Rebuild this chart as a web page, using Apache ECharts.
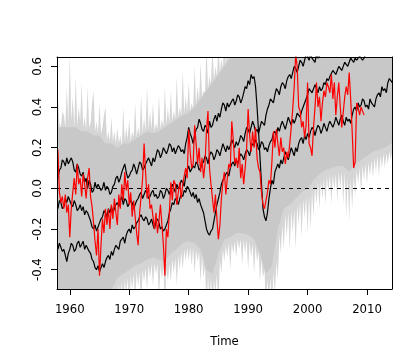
<!DOCTYPE html>
<html><head><meta charset="utf-8">
<script src="https://cdn.jsdelivr.net/npm/echarts@6/dist/echarts.min.js"></script>
<style>html,body{margin:0;padding:0;background:#fff}#c{width:420px;height:360px}</style>
</head><body><div id="c"></div>
<script>
// ---- data ----
const redStart = 1958, redStep = 0.25;
const red = [
 0.19,-0.02,-0.07,-0.04, -0.10,-0.03,-0.12,-0.08, -0.24,-0.10,-0.02,0.05, -0.03,0.12,0.02,0.05,
 -0.04,0.07,0.02,-0.05, 0.05,0.10,-0.04,-0.09, -0.17,-0.26,-0.33,-0.20, -0.43,-0.28,-0.15,-0.22,
 -0.10,-0.18,-0.10,-0.20, -0.08,-0.15,-0.05,-0.12, -0.18,-0.03,-0.10,0.02, -0.06,0.08,-0.01,0.04,
 -0.08,-0.02,-0.14,-0.06, -0.14,-0.22,-0.28,-0.12, -0.04,0.05,0.22,0.08, -0.05,0.02,-0.10,-0.08,
 -0.14,-0.20,-0.12,-0.22, -0.16,-0.08,-0.18,-0.28, -0.43,-0.20,-0.24,-0.12, 0.03,-0.06,0.04,0.02,
 -0.08,-0.02,0.03,-0.05, 0.02,0.06,0.10,0.05, 0.29,0.18,0.10,0.12, 0.31,0.22,0.12,0.20,
 0.08,0.15,0.05,0.12, 0.29,0.38,0.10,0.02, -0.05,-0.12,-0.03,-0.15, -0.25,-0.18,-0.05,0.03,
 0.08,-0.03,0.05,0.12, 0.10,0.33,0.24,0.12, 0.15,0.10,0.20,0.05, 0.12,0.02,0.10,0.20,
 0.39,0.26,0.18,0.28, 0.20,0.30,0.15,0.10, 0.08,-0.02,-0.08,-0.10, -0.06,-0.02,0.04,0.02,
 0.13,0.28,0.20,0.29, 0.22,0.16,0.25,0.18, 0.20,0.12,0.18,0.15, 0.22,0.30,0.39,0.50,
 0.66,0.60,0.40,0.38, 0.30,0.33,0.25,0.31, 0.52,0.22,0.20,0.16, 0.30,0.40,0.52,0.40,
 0.45,0.33,0.42,0.48, 0.45,0.52,0.50,0.47, 0.56,0.44,0.52,0.36, 0.45,0.52,0.40,0.30,
 0.30,0.45,0.50,0.46, 0.57,0.44,0.28,0.10, 0.13,0.42,0.40,0.36, 0.40,0.38,0.36
];
const lineStart = 1958, lineStep = 0.25;
const blackA = [
 0.05,0.09,0.10,0.14, 0.13,0.11,0.15,0.12, 0.12,0.15,0.13,0.09, 0.08,0.12,0.10,0.07,
 0.06,0.08,0.03,0.05, 0.00,0.04,0.02,-0.02, -0.01,0.03,0.00,0.02, 0.02,-0.01,0.00,0.03,
 -0.01,0.01,0.00,-0.03, -0.02,0.01,0.02,0.05, 0.06,0.03,0.05,0.08, 0.10,0.12,0.08,0.05,
 0.06,0.08,0.09,0.12, 0.10,0.07,0.10,0.13, 0.12,0.09,0.10,0.12, 0.12,0.15,0.13,0.11,
 0.15,0.13,0.16,0.19, 0.18,0.15,0.17,0.20, 0.20,0.17,0.19,0.22, 0.21,0.18,0.20,0.17,
 0.17,0.21,0.20,0.18, 0.19,0.17,0.22,0.25, 0.30,0.27,0.25,0.22, 0.26,0.29,0.30,0.34,
 0.32,0.29,0.28,0.31, 0.30,0.27,0.33,0.30, 0.31,0.34,0.36,0.33, 0.37,0.35,0.39,0.42,
 0.41,0.38,0.42,0.40, 0.40,0.43,0.44,0.41, 0.43,0.46,0.45,0.42, 0.44,0.47,0.50,0.49,
 0.53,0.51,0.56,0.54, 0.55,0.50,0.40,0.28, 0.15,0.02,-0.10,-0.14, -0.16,-0.12,-0.05,0.00,
 0.04,0.02,0.08,0.10, 0.12,0.10,0.14,0.12, 0.15,0.18,0.16,0.14, 0.17,0.20,0.18,0.16,
 0.20,0.18,0.22,0.24, 0.25,0.22,0.26,0.24, 0.27,0.25,0.28,0.30, 0.29,0.26,0.29,0.31,
 0.30,0.27,0.29,0.32, 0.30,0.28,0.31,0.33, 0.33,0.30,0.32,0.35, 0.33,0.31,0.34,0.36,
 0.33,0.31,0.35,0.33, 0.34,0.32,0.36,0.39, 0.40,0.38,0.42,0.40, 0.41,0.44,0.43,0.40,
 0.41,0.39,0.44,0.42, 0.42,0.40,0.44,0.46, 0.47,0.45,0.50,0.48, 0.49,0.47,0.52,0.54, 0.53,0.52
];
const blackB = [
 -0.10,-0.06,-0.07,-0.10, -0.09,-0.05,-0.07,-0.04, -0.06,-0.08,-0.09,-0.06, -0.08,-0.11,-0.10,-0.08,
 -0.11,-0.09,-0.13,-0.11, -0.12,-0.14,-0.16,-0.19, -0.20,-0.18,-0.21,-0.19, -0.17,-0.15,-0.14,-0.11,
 -0.12,-0.14,-0.10,-0.12, -0.09,-0.12,-0.10,-0.08, -0.07,-0.09,-0.06,-0.04, -0.08,-0.05,-0.06,-0.09,
 -0.09,-0.06,-0.07,-0.10, -0.08,-0.06,-0.05,-0.03, -0.02,-0.05,-0.03,-0.01, -0.02,-0.05,-0.04,-0.02,
 -0.01,-0.04,-0.03,-0.05, -0.04,-0.01,-0.02,-0.05, -0.03,0.00,-0.01,-0.03, 0.00,0.02,0.00,-0.02,
 0.02,0.00,0.01,0.04, 0.03,0.01,0.06,0.09, 0.11,0.08,0.08,0.11, 0.10,0.13,0.12,0.09,
 0.10,0.12,0.13,0.16, 0.15,0.12,0.16,0.18, 0.17,0.14,0.16,0.19, 0.18,0.16,0.19,0.22,
 0.20,0.18,0.21,0.19, 0.21,0.24,0.22,0.20, 0.23,0.21,0.23,0.26, 0.25,0.23,0.27,0.30,
 0.29,0.27,0.30,0.33, 0.31,0.28,0.29,0.27, 0.30,0.33,0.33,0.31, 0.36,0.39,0.41,0.44,
 0.44,0.42,0.46,0.49, 0.48,0.46,0.50,0.52, 0.51,0.49,0.53,0.55, 0.56,0.54,0.57,0.60,
 0.59,0.57,0.60,0.63, 0.62,0.60,0.63,0.66, 0.65,0.63,0.66,0.64, 0.64,0.62,0.66,0.64,
 0.65,0.67,0.68,0.70, 0.70,0.72,0.72,0.74, 0.74,0.75,0.75,0.76, 0.76,0.77,0.77,0.78,
 0.78,0.79,0.79,0.80, 0.80,0.80,0.80,0.81, 0.81,0.82,0.82,0.83, 0.83,0.84,0.84,0.85,
 0.85,0.85,0.85,0.86, 0.86,0.87,0.87,0.88, 0.88,0.88,0.88,0.89, 0.89,0.90,0.90,0.90, 0.90,0.91
];
const blackC = [
 -0.30,-0.27,-0.27,-0.31, -0.30,-0.33,-0.36,-0.32, -0.30,-0.27,-0.28,-0.31, -0.30,-0.27,-0.26,-0.29,
 -0.29,-0.26,-0.30,-0.28, -0.28,-0.31,-0.32,-0.35, -0.36,-0.39,-0.40,-0.38, -0.41,-0.39,-0.37,-0.39,
 -0.36,-0.34,-0.33,-0.35, -0.31,-0.33,-0.30,-0.28, -0.28,-0.30,-0.26,-0.25, -0.24,-0.27,-0.23,-0.21,
 -0.20,-0.22,-0.18,-0.20, -0.19,-0.17,-0.16,-0.14, -0.13,-0.15,-0.16,-0.14, -0.15,-0.18,-0.17,-0.15,
 -0.18,-0.20,-0.16,-0.15, -0.17,-0.20,-0.19,-0.21, -0.20,-0.18,-0.16,-0.12, -0.10,-0.07,-0.08,-0.05,
 -0.06,-0.08,-0.05,-0.03, -0.04,-0.01,-0.02,0.01, 0.00,-0.02,-0.04,-0.02, -0.05,-0.03,-0.07,-0.05,
 -0.08,-0.10,-0.12,-0.16, -0.20,-0.22,-0.23,-0.21, -0.20,-0.16,-0.12,-0.08, -0.05,-0.02,0.02,0.04,
 0.05,0.07,0.08,0.06, 0.10,0.12,0.13,0.11, 0.14,0.12,0.15,0.17, 0.16,0.14,0.17,0.19,
 0.18,0.16,0.20,0.22, 0.21,0.24,0.22,0.19, 0.20,0.23,0.22,0.19, 0.20,0.18,0.21,0.23,
 0.24,0.27,0.28,0.26, 0.30,0.28,0.31,0.33, 0.31,0.29,0.32,0.35, 0.33,0.31,0.34,0.32,
 0.34,0.37,0.36,0.35, 0.38,0.40,0.42,0.44, 0.46,0.49,0.48,0.47, 0.49,0.51,0.49,0.47,
 0.50,0.48,0.49,0.52, 0.51,0.54,0.53,0.55, 0.55,0.58,0.57,0.56, 0.58,0.60,0.59,0.58,
 0.60,0.62,0.61,0.60, 0.62,0.64,0.63,0.62, 0.64,0.63,0.63,0.65, 0.65,0.63,0.64,0.66,
 0.66,0.67,0.68,0.69, 0.70,0.71,0.71,0.72, 0.72,0.73,0.73,0.74, 0.74,0.75,0.75,0.76, 0.76,0.77
];
// upper edge of the light ensemble spikes (beyond 1988 the band fills the top)
const lightUpperStart = 1958, lightUpperStep = 0.25;
const lightUpper = [
 0.45,0.32,0.30,0.38, 0.36,0.30,0.50,0.32, 0.66,0.33,0.45,0.30, 0.55,0.31,0.40,0.33,
 0.52,0.30,0.35,0.29, 0.50,0.30,0.32,0.42, 0.48,0.28,0.33,0.27, 0.42,0.27,0.30,0.36,
 0.40,0.24,0.28,0.23, 0.35,0.23,0.28,0.22, 0.30,0.22,0.26,0.21, 0.40,0.23,0.30,0.24,
 0.34,0.23,0.28,0.25, 0.42,0.25,0.30,0.26, 0.46,0.27,0.35,0.28, 0.50,0.29,0.38,0.29,
 0.42,0.28,0.32,0.29, 0.46,0.29,0.34,0.30, 0.50,0.31,0.40,0.32, 0.48,0.33,0.38,0.34,
 0.55,0.35,0.40,0.36, 0.58,0.37,0.45,0.38, 0.52,0.38,0.42,0.39, 0.60,0.41,0.50,0.43,
 0.62,0.45,0.48,0.47, 0.70,0.49,0.55,0.51, 0.70,0.53,0.60,0.55, 0.70,0.57,0.64,0.59,
 0.75,0.61,0.70,0.63, 0.75,0.65,0.75,0.70
];
// lower edge of the light ensemble spikes (before 1966 the band fills the bottom)
const lightLowerStart = 1966, lightLowerStep = 0.25;
const lightLower = [
 -0.60,-0.58,-0.60,-0.58, -0.60,-0.53,-0.60,-0.50, -0.60,-0.47,-0.55,-0.46, -0.60,-0.45,-0.52,-0.44,
 -0.60,-0.43,-0.50,-0.42, -0.55,-0.41,-0.48,-0.41, -0.60,-0.40,-0.46,-0.39, -0.50,-0.38,-0.44,-0.37,
 -0.48,-0.37,-0.42,-0.37, -0.55,-0.38,-0.45,-0.38, -0.60,-0.39,-0.46,-0.37, -0.46,-0.35,-0.42,-0.34,
 -0.48,-0.33,-0.40,-0.31, -0.40,-0.30,-0.36,-0.29, -0.36,-0.29,-0.38,-0.29, -0.42,-0.30,-0.36,-0.31,
 -0.46,-0.33,-0.44,-0.38, -0.60,-0.43,-0.55,-0.44, -0.60,-0.45,-0.52,-0.42, -0.60,-0.35,-0.42,-0.30,
 -0.36,-0.28,-0.34,-0.27, -0.40,-0.27,-0.32,-0.26, -0.34,-0.25,-0.30,-0.25, -0.38,-0.25,-0.32,-0.25,
 -0.40,-0.26,-0.34,-0.27, -0.42,-0.28,-0.36,-0.31, -0.46,-0.35,-0.44,-0.40, -0.60,-0.45,-0.55,-0.44,
 -0.60,-0.41,-0.52,-0.36, -0.45,-0.23,-0.32,-0.18, -0.30,-0.13,-0.24,-0.12, -0.30,-0.11,-0.22,-0.10,
 -0.30,-0.08,-0.18,-0.06, -0.24,-0.05,-0.15,-0.04, -0.22,-0.03,-0.20,-0.01, -0.14,0.01,-0.08,0.03,
 -0.10,0.04,-0.05,0.05, -0.08,0.06,-0.02,0.07, -0.08,0.07,-0.01,0.07, -0.06,0.08,0.00,0.08,
 -0.08,0.08,-0.14,0.06, -0.16,0.05,-0.10,0.06, -0.04,0.09,0.02,0.10, -0.02,0.11,0.04,0.12,
 0.02,0.13,0.06,0.14, 0.05,0.15,0.08,0.16, 0.06,0.16,0.10,0.17, 0.10,0.17,0.12,0.18, 0.14,0.19
];
// edges of the dense core of the ensemble
const coreStart = 1958, coreStep = 1;
const coreUpper = [
 0.30,0.30,0.30,0.30,0.28,0.28,0.26,0.26,0.22,0.22,
 0.20,0.22,0.22,0.24,0.26,0.28,0.27,0.28,0.30,0.32,
 0.34,0.36,0.37,0.40,0.44,0.48,0.52,0.56,0.60,0.64,
 0.75,0.75,0.75,0.75,0.75,0.75,0.75,0.75,0.75,0.75,
 0.75,0.75,0.75,0.75,0.75,0.75,0.75,0.75,0.75,0.75,
 0.75,0.75,0.75,0.75,0.75,0.75,0.75,0.75
];
const coreLower = [
 -0.60,-0.60,-0.60,-0.60,-0.60,-0.60,-0.60,-0.60,-0.55,-0.50,
 -0.44,-0.42,-0.40,-0.38,-0.37,-0.35,-0.34,-0.35,-0.36,-0.32,
 -0.30,-0.27,-0.26,-0.27,-0.30,-0.40,-0.42,-0.32,-0.25,-0.24,
 -0.22,-0.22,-0.23,-0.25,-0.32,-0.42,-0.38,-0.20,-0.10,-0.08,
 -0.05,-0.02,0.00,0.04,0.07,0.09,0.10,0.11,0.11,0.08,
 0.12,0.14,0.16,0.18,0.19,0.20,0.22,0.24
];
const xTicks = [1960, 1970, 1980, 1990, 2000, 2010];
const yTicks = [-0.4, -0.2, 0.0, 0.2, 0.4, 0.6];
const xTitle = 'Time';

// ---- build ----
function pairs(start, step, arr) { return arr.map((v, i) => [start + i * step, v]); }
const FONT = "'Liberation Sans Narrow','DejaVu Sans Condensed',sans-serif";
function area(name, start, step, arr, color) {
  return { name, type: 'line', data: pairs(start, step, arr), symbol: 'none', silent: true,
    lineStyle: { width: 0, opacity: 0 }, areaStyle: { color, opacity: 1, origin: 'start' }, z: 2 };
}
function line(name, start, step, arr, color, z) {
  return { name, type: 'line', data: pairs(start, step, arr), symbol: 'none', silent: true,
    lineStyle: { width: 1.2, color }, z };
}
const chart = echarts.init(document.getElementById('c'), null, { renderer: 'canvas' });
const axisCommon = { lineStyle: { color: '#000', width: 1 } };
const series = [
  area('lightUpper', lightUpperStart, lightUpperStep, lightUpper, '#d5d5d5'),
  area('coreUpper', coreStart, coreStep, coreUpper, '#c8c8c8'),
  area('coreLower', coreStart, coreStep, coreLower, '#d5d5d5'),
  area('lightLower', lightLowerStart, lightLowerStep, lightLower, '#ffffff'),
  line('blackA', lineStart, lineStep, blackA, '#000', 6),
  line('blackB', lineStart, lineStep, blackB, '#000', 6),
  line('blackC', lineStart, lineStep, blackC, '#000', 6),
  line('obs', redStart, redStep, red, '#ff0000', 7)
];
series[3].markLine = { silent: true, symbol: 'none', z: 5, label: { show: false },
  lineStyle: { type: [4, 4], color: '#000', width: 1 }, data: [{ yAxis: 0 }] };
chart.setOption({
  animation: false,
  backgroundColor: '#fff',
  grid: { left: 57, top: 57, right: 28, bottom: 71 },
  xAxis: [{
    type: 'value', min: 1957.85, max: 2014.2, position: 'bottom', z: 10,
    axisLine: { show: true, onZero: false, ...axisCommon },
    axisTick: { show: true, length: 6, customValues: xTicks, lineStyle: { color: '#000' } },
    axisLabel: { customValues: xTicks, margin: 14, color: '#000', fontSize: 13, fontFamily: FONT,
      formatter: v => String(Math.round(v)) },
    splitLine: { show: false },
    name: xTitle, nameLocation: 'middle', nameGap: 46,
    nameTextStyle: { color: '#000', fontSize: 13, fontFamily: FONT }
  }, {
    type: 'value', min: 1957.85, max: 2014.2, position: 'top', z: 10,
    axisLine: { show: true, onZero: false, ...axisCommon },
    axisTick: { show: false }, axisLabel: { show: false }, splitLine: { show: false }
  }],
  yAxis: [{
    type: 'value', min: -0.495, max: 0.646, position: 'left', z: 10,
    axisLine: { show: true, onZero: false, ...axisCommon },
    axisTick: { show: true, length: 6, customValues: yTicks, lineStyle: { color: '#000' } },
    axisLabel: { customValues: yTicks, rotate: 90, margin: 13, color: '#000', fontSize: 13, fontFamily: FONT,
      formatter: v => Number(v).toFixed(1) },
    splitLine: { show: false }
  }, {
    type: 'value', min: -0.495, max: 0.646, position: 'right', z: 10,
    axisLine: { show: true, onZero: false, ...axisCommon },
    axisTick: { show: false }, axisLabel: { show: false }, splitLine: { show: false }
  }],
  series
});
</script></body></html>
